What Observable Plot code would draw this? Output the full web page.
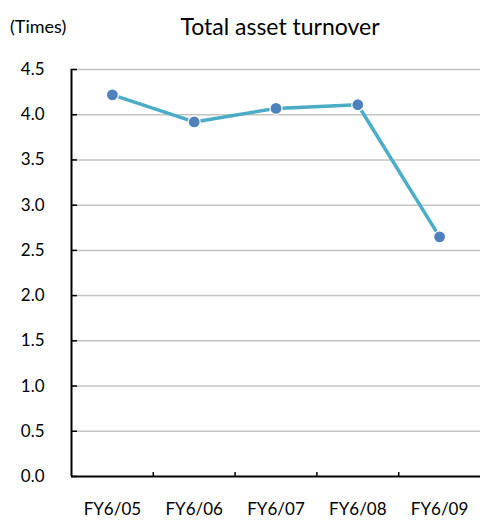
<!DOCTYPE html>
<html>
<head>
<meta charset="utf-8">
<script src="https://cdn.jsdelivr.net/npm/d3@7"></script>
<script src="https://cdn.jsdelivr.net/npm/@observablehq/plot@0.6"></script>
<style>
  html, body { margin: 0; padding: 0; background: #fff; }
  #wrap { width: 480px; height: 524px; position: relative; font-family: Lato, "Open Sans", sans-serif; }
  #head { position: relative; height: 50px; }
  #unit { position: absolute; left: 10px; top: 15px; font-size: 18px; color: #000; }
  #title { position: absolute; left: 71px; width: 418px; text-align: center; top: 12px; font-size: 23px; color: #000; }
</style>
</head>
<body>
<div id="wrap">
  <div id="head"><span id="unit">(Times)</span><div id="title">Total asset turnover</div></div>
  <div id="chart"></div>
</div>
<script>
const categories = ["FY6/05", "FY6/06", "FY6/07", "FY6/08", "FY6/09"];
const turnover = [4.22, 3.92, 4.07, 4.11, 2.65];
const yTicks = [0, 0.5, 1.0, 1.5, 2.0, 2.5, 3.0, 3.5, 4.0, 4.5];

const data = categories.map((c, i) => ({cat: c, idx: i + 0.5, value: turnover[i]}));

const chart = Plot.plot({
  width: 480,
  height: 474,
  marginTop: 19,
  marginLeft: 71,
  marginRight: 0,
  marginBottom: 48,
  style: {fontFamily: "Lato, 'Open Sans', sans-serif", fontSize: "16px", color: "#000", background: "#fff"},
  x: {domain: [0, categories.length], axis: null, label: null},
  y: {domain: [0, 4.5], axis: null, label: null},
  marks: [
    Plot.ruleY(yTicks.filter(d => d > 0), {stroke: "#c4c4c4", strokeWidth: 1.5}),
    Plot.axisY({ticks: yTicks, tickSize: 0, tickPadding: 27, tickFormat: d => d.toFixed(1), fontSize: 17, label: null}),
    Plot.tickY(yTicks, {y: d => d, stroke: "#000", strokeWidth: 1.5, insetRight: 403}),
    Plot.axisX({ticks: d3.range(1, categories.length), tickSize: -4, tickFormat: () => "", strokeWidth: 1.5, label: null}),
    Plot.axisX({ticks: data.map(d => d.idx), tickSize: 0, tickPadding: 26, tickFormat: (d, i) => categories[i], fontSize: 17, label: null}),
    Plot.ruleY([0], {stroke: "#000", strokeWidth: 2}),
    Plot.ruleX([0], {stroke: "#000", strokeWidth: 2}),
    Plot.line(data, {x: "idx", y: "value", stroke: "#4bacc6", strokeWidth: 3.5}),
    Plot.dot(data, {x: "idx", y: "value", r: 6, fill: "#4f81bd", stroke: "#fff", strokeWidth: 1.2})
  ]
});
document.getElementById("chart").appendChild(chart);
</script>
</body>
</html>
